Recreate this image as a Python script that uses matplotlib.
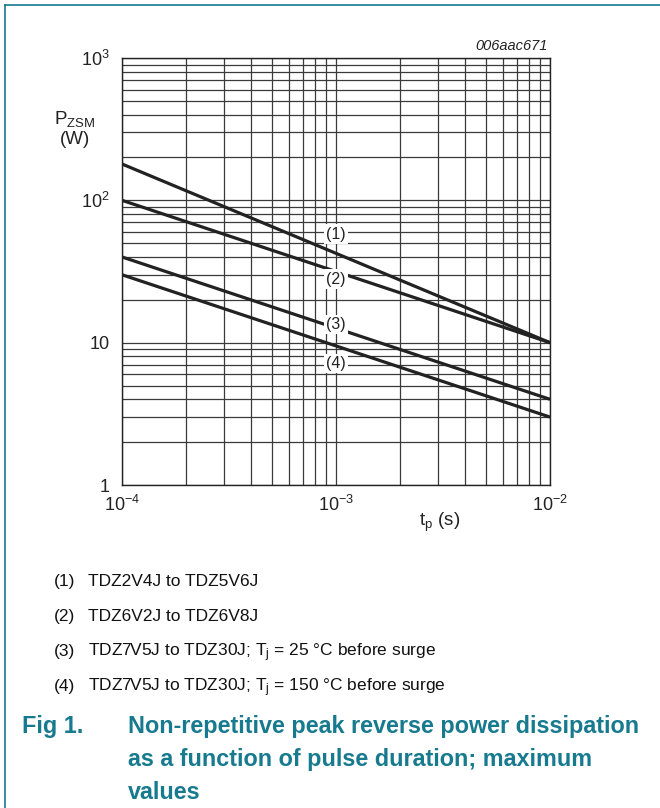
import matplotlib
matplotlib.use('Agg')
import matplotlib.pyplot as plt
from matplotlib.lines import Line2D

plt.rcParams['font.family'] = ['Liberation Sans', 'DejaVu Sans']
plt.rcParams['mathtext.fontset'] = 'custom'
plt.rcParams['mathtext.rm'] = 'Liberation Sans'
plt.rcParams['mathtext.it'] = 'Liberation Sans:italic'

# Data
tp = [1e-4, 1e-2]
p_1 = [180, 10]
p_2 = [100, 10]
p_3 = [40, 4]
p_4 = [30, 3]
curves = [p_1, p_2, p_3, p_4]
curve_labels = ['(1)', '(2)', '(3)', '(4)']
label_x = [1e-3, 1e-3, 1e-3, 1e-3]
label_y = [58, 28, 13.5, 7.1]

xticks = [1e-4, 1e-3, 1e-2]
xticklabels = [r'$10^{-4}$', r'$10^{-3}$', r'$10^{-2}$']
yticks = [1, 10, 100, 1000]
yticklabels = ['1', '10', r'$10^{2}$', r'$10^{3}$']

legend_lines = [
    ('(1)', 'TDZ2V4J to TDZ5V6J'),
    ('(2)', 'TDZ6V2J to TDZ6V8J'),
    ('(3)', r'TDZ7V5J to TDZ30J; T$_\mathrm{j}$ = 25 °C before surge'),
    ('(4)', r'TDZ7V5J to TDZ30J; T$_\mathrm{j}$ = 150 °C before surge'),
]
caption = ['Non-repetitive peak reverse power dissipation',
           'as a function of pulse duration; maximum',
           'values']

W, H = 660, 808
fig = plt.figure(figsize=(W / 100, H / 100), dpi=100)
fig.patch.set_facecolor('white')

ax = fig.add_axes([122 / W, 1 - 485 / H, 428 / W, 427 / H])
ax.set_xscale('log')
ax.set_yscale('log')
ax.set_xlim(1e-4, 1e-2)
ax.set_ylim(1, 1000)

ax.grid(which='both', color='#3a3a3a', lw=0.9)
ax.set_axisbelow(True)
for s in ax.spines.values():
    s.set_color('#222222')
    s.set_linewidth(1.0)

for c in curves:
    ax.plot(tp, c, color='#222222', lw=2.3, solid_capstyle='butt', zorder=3)

for lab, lx, ly in zip(curve_labels, label_x, label_y):
    ax.text(lx, ly, lab, ha='center', va='center', fontsize=11.5, color='#222222',
            bbox=dict(facecolor='white', edgecolor='none', pad=1.5), zorder=4)

ax.set_xticks(xticks)
ax.set_xticklabels(xticklabels, fontsize=13)
ax.set_yticks(yticks)
ax.set_yticklabels(yticklabels, fontsize=13)
ax.tick_params(which='both', length=0, pad=8, colors='#222222')
ax.tick_params(axis='x', pad=7)
ax.tick_params(axis='y', pad=9)

fig.text(75 / W, 1 - 119 / H, r'P$_\mathrm{ZSM}$', ha='center', va='center',
         fontsize=13.5, color='#222222')
fig.text(75 / W, 1 - 140 / H, '(W)', ha='center', va='center',
         fontsize=13.5, color='#222222')
fig.text(440 / W, 1 - 522 / H, r't$_\mathrm{p}$ (s)', ha='center', va='center',
         fontsize=13.5, color='#222222')
fig.text(548 / W, 1 - 46 / H, '006aac671', ha='right', va='center',
         fontsize=10.5, style='italic', color='#222222')

# legend text below the chart
for i, (num, txt) in enumerate(legend_lines):
    y = 1 - (586 + i * 35) / H
    fig.text(54 / W, y, num, ha='left', va='baseline', fontsize=12.5, color='#111111')
    fig.text(88 / W, y, txt, ha='left', va='baseline', fontsize=12.5, color='#111111')

teal = '#177a8f'
fig.text(22 / W, 1 - 733 / H, 'Fig 1.', ha='left', va='baseline', fontsize=16.8,
         weight='bold', color=teal)
for i, line in enumerate(caption):
    fig.text(128 / W, 1 - (733 + i * 33) / H, line, ha='left', va='baseline',
             fontsize=16.8, weight='bold', color=teal)

# page frame (top and left)
fig.add_artist(Line2D([5 / W, 1], [1 - 5 / H, 1 - 5 / H], color=teal, lw=1.2,
                      transform=fig.transFigure))
fig.add_artist(Line2D([5 / W, 5 / W], [1 - 5 / H, 0], color=teal, lw=1.2,
                      transform=fig.transFigure))

fig.savefig('out.png', dpi=100)
